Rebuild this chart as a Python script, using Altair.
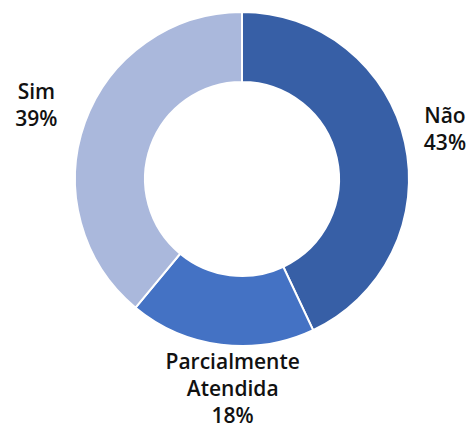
import altair as alt
import pandas as pd

categories = ["Não", "Parcialmente Atendida", "Sim"]
labels = ["Não\n43%", "Parcialmente\nAtendida\n18%", "Sim\n39%"]
values = [43, 18, 39]
colors = ["#375FA6", "#4472C4", "#AAB8DC"]

df = pd.DataFrame({
    "categoria": categories,
    "rotulo": labels,
    "valor": values,
    "ordem": list(range(len(categories))),
})

base = alt.Chart(df).encode(
    theta=alt.Theta("valor:Q", stack=True),
    order=alt.Order("ordem:Q"),
    x=alt.value(234),
    y=alt.value(171),
)

arcs = base.mark_arc(
    outerRadius=167, innerRadius=97, stroke="white", strokeWidth=2
).encode(
    color=alt.Color(
        "categoria:N",
        scale=alt.Scale(domain=categories, range=colors),
        legend=None,
    )
)

text_style = dict(
    radius=210,
    font="Open Sans",
    fontSize=21,
    fontWeight=600,
    color="#111111",
    lineBreak="\n",
    lineHeight=27,
    align="center",
    baseline="middle",
)

offsets = {"Não": (-2, -16), "Parcialmente Atendida": (17, -24), "Sim": (-8, -15)}

text_layers = [
    base.mark_text(dx=dx, dy=dy, **text_style)
    .encode(text="rotulo:N", opacity=alt.condition(alt.datum.categoria == cat, alt.value(1), alt.value(0)))
    for cat, (dx, dy) in offsets.items()
]

chart = alt.layer(arcs, *text_layers).properties(
    width=459,
    height=421,
    padding=0,
    autosize=alt.AutoSizeParams(type="fit", contains="padding"),
).configure_view(stroke=None)

chart.save("out.html", embed_options={"renderer": "svg", "actions": False})
